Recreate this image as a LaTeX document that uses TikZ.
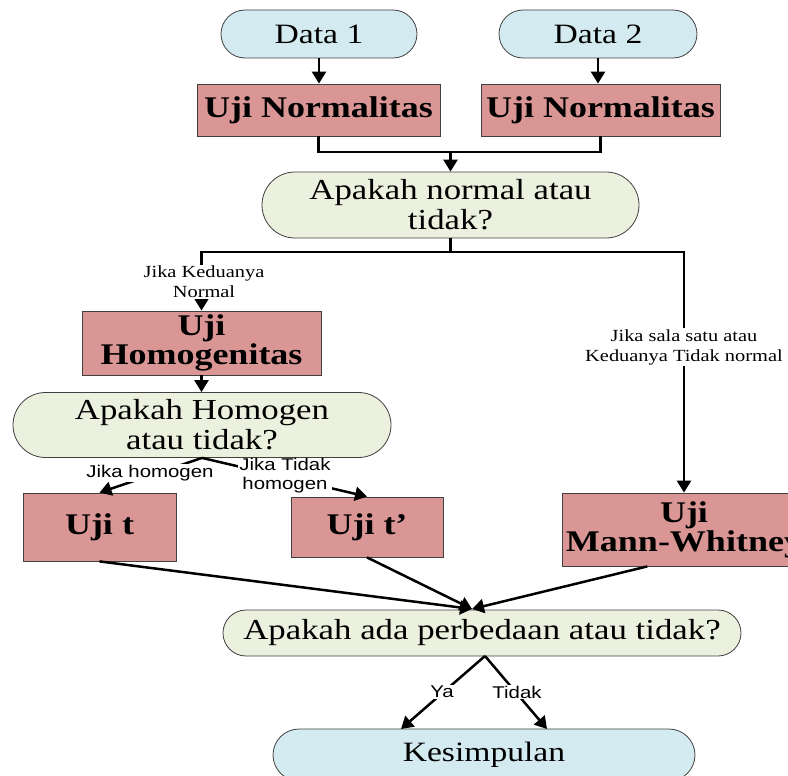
\documentclass[tikz,border=0pt]{standalone}
\usepackage{fontspec}
\setmainfont[FakeStretch=1.2]{Liberation Serif}
\setsansfont[FakeStretch=1.2]{Liberation Sans}
\usetikzlibrary{shapes.misc,arrows.meta,calc}
\definecolor{dblue}{HTML}{D3EAF0}
\definecolor{upink}{HTML}{D99694}
\definecolor{qgreen}{HTML}{EBF1DE}
\newcommand\fsz[2]{\fontsize{#1}{#2}\selectfont}
\begin{document}
\begin{tikzpicture}[x=1pt,y=-1pt,
  stad/.style={rounded rectangle, draw=black!75, line width=0.8pt, inner sep=0pt, align=center},
  testbox/.style={rectangle, draw=black!75, line width=0.8pt, fill=upink, inner sep=0pt, align=center, font=\bfseries\fsz{30}{29}},
  datanode/.style={stad, fill=dblue, font=\fsz{28}{30}},
  qnode/.style={stad, fill=qgreen, font=\fsz{29}{30}},
  wire/.style={line width=2.5pt},
  conn/.style={line width=2.5pt, -{Triangle[length=12pt,width=14pt]}},
  lblserif/.style={fill=white, inner sep=1pt, align=center, font=\fsz{17}{20}},
  lblsans/.style={fill=white, inner sep=1pt, align=center, font=\sffamily\fsz{17}{19}}
]
\useasboundingbox (0,0) rectangle (788,776);
\clip (0,0) rectangle (788,776);

\node[datanode, minimum width=196pt, minimum height=48pt] (d1) at (319,34) {Data 1};
\node[datanode, minimum width=198pt, minimum height=48pt] (d2) at (598,34) {Data 2};
\node[testbox, minimum width=243pt, minimum height=52pt] (n1) at (318.5,110) {Uji Normalitas};
\node[testbox, minimum width=239pt, minimum height=52pt] (n2) at (600.5,110) {Uji Normalitas};
\node[qnode, minimum width=377pt, minimum height=66pt] (an) at (450.5,205) {Apakah normal atau\\tidak?};
\node[testbox, minimum width=239pt, minimum height=64pt] (uh) at (201.5,343) {Uji\\Homogenitas};
\node[qnode, minimum width=378pt, minimum height=65pt] (ah) at (202,425) {Apakah Homogen\\atau tidak?};
\node[testbox, minimum width=153pt, minimum height=68pt] (ut) at (99.5,527) {Uji t};
\node[testbox, minimum width=152pt, minimum height=60pt] (ut2) at (367,527) {Uji t’};
\node[testbox, minimum width=244pt, minimum height=73pt] (mw) at (684,529.5) {Uji\\Mann-Whitney};
\node[qnode, minimum width=518pt, minimum height=46pt] (ap) at (482,633) {Apakah ada perbedaan atau tidak?};
\node[datanode, minimum width=422pt, minimum height=52pt] (ks) at (484,755) {Kesimpulan};

% top
\draw[conn] (d1.south) -- (d1.south |- n1.north);
\draw[conn] (d2.south) -- (d2.south |- n2.north);
\coordinate (m) at (450.5,152);
\draw[wire] (n1.south) |- (m);
\draw[wire] (n2.south) |- (m);
\draw[conn] (m) -- (an.north);

% split
\coordinate (s) at (450.5,252);
\draw[wire] (an.south) -- (s);
\draw[conn] (s) -| (uh.north);
\draw[conn] (s) -| (mw.north);
\node[lblserif] (l1) at (204,282) {Jika Keduanya\\Normal};
\node[lblserif] (l2) at (684,347) {Jika sala satu atau\\Keduanya Tidak normal};

\draw[conn] (uh.south) -- (uh.south |- ah.north);

\draw[conn] (ah.south) -- (ut.north);
\draw[conn] (ah.south) -- (ut2.north);
\node[lblsans] (l3) at (150,473) {Jika homogen};
\node[lblsans] (l4) at (285,476) {Jika Tidak\\homogen};

% converge
\coordinate (apin) at (472,609);
\coordinate (mwout) at ($(mw.south west)!0.35!(mw.south east)$);
\draw[conn] (ut.south) -- (apin);
\draw[conn] (ut2.south) -- (apin);
\draw[conn] (mwout) -- (apin);

% conclusion
\coordinate (apout) at (485,656);
\coordinate (ksl) at (401,729);
\coordinate (ksr) at (547,729);
\draw[conn] (apout) -- (ksl);
\draw[conn] (apout) -- (ksr);
\node[lblsans] (ya) at (442,692) {Ya};
\node[lblsans] (td) at (517,692) {Tidak};
\end{tikzpicture}
\end{document}
